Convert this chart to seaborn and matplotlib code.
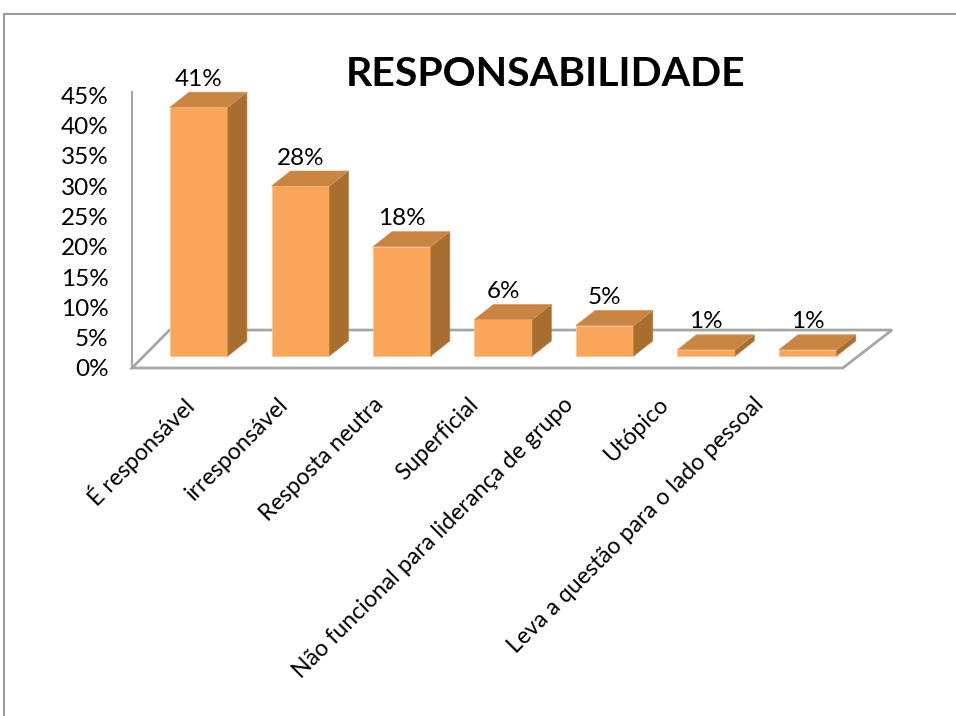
import matplotlib
matplotlib.use("Agg")
import matplotlib.pyplot as plt
import matplotlib.transforms as mtransforms
from matplotlib.patches import Polygon
from matplotlib.lines import Line2D
import seaborn as sns
import pandas as pd

# ---- data ----
categories = ["É responsável", "irresponsável", "Resposta neutra", "Superficial",
              "Não funcional para liderança de grupo", "Utópico",
              "Leva a questão para o lado pessoal"]
values = [0.41, 0.28, 0.18, 0.06, 0.05, 0.01, 0.01]
value_labels = ["41%", "28%", "18%", "6%", "5%", "1%", "1%"]
tick_values = [0.00, 0.05, 0.10, 0.15, 0.20, 0.25, 0.30, 0.35, 0.40, 0.45]
tick_labels = ["0%", "5%", "10%", "15%", "20%", "25%", "30%", "35%", "40%", "45%"]
title = "RESPONSABILIDADE"

# ---- style ----
sns.set_theme(style="white")
plt.rcParams["font.family"] = ["Lato", "DejaVu Sans"]

FRONT = "#F9A65A"
TOP = "#C98442"
SIDE = "#A86E30"
GRAY = "#A6A6A6"

W, H = 956, 716
fig = plt.figure(figsize=(W / 100, H / 100), dpi=100)
fig.patch.set_facecolor("white")

# axes placed in pixel layout
ax_l, ax_r, ax_b, ax_t = 132, 892, 368, 92
ax = fig.add_axes([ax_l / W, (H - ax_b) / H, (ax_r - ax_l) / W, (ax_b - ax_t) / H])

df = pd.DataFrame({"cat": categories, "val": values})
sns.barplot(data=df, x="cat", y="val", width=0.57, color=FRONT, saturation=1,
            edgecolor="#FBC595", linewidth=0.6, ax=ax, zorder=3)

floor_off = 0.02   # axis zero sits on the front edge of the floor
ax.set_xlim(-0.66, 6.83)
ax.set_ylim(-floor_off, 0.435)

# 3D depth in data units
xpx = (ax_r - ax_l) / (6.83 + 0.66)
ypx = (ax_b - ax_t) / (0.435 + floor_off)
dx = 19 / xpx
dy = 15 / ypx

# floor
floor = Polygon([(-0.66, -floor_off), (6.345, -floor_off), (6.83, 0.0426), (-0.29, 0.0426)],
                closed=True, facecolor="white", edgecolor=GRAY, lw=2, zorder=1,
                clip_on=False)
ax.add_patch(floor)

for p, lab in zip(ax.patches[:len(values)], value_labels):
    x0, w, h = p.get_x(), p.get_width(), p.get_height()
    top = Polygon([(x0, h), (x0 + w, h), (x0 + w + dx, h + dy), (x0 + dx, h + dy)],
                  closed=True, facecolor=TOP, edgecolor="#D8955A", lw=0.5, zorder=3,
                  clip_on=False)
    side = Polygon([(x0 + w, 0), (x0 + w + dx, dy), (x0 + w + dx, h + dy), (x0 + w, h)],
                   closed=True, facecolor=SIDE, edgecolor="#B87A3C", lw=0.5, zorder=3,
                   clip_on=False)
    ax.add_patch(side)
    ax.add_patch(top)
    ax.text(x0 + w / 2, h + 28 / ypx, lab, ha="center", va="center", fontsize=17.5,
            color="black", zorder=5, clip_on=False)

for s in ["top", "right", "bottom"]:
    ax.spines[s].set_visible(False)
ax.spines["left"].set_color(GRAY)
ax.spines["left"].set_linewidth(1.5)
ax.set_facecolor("none")

ax.set_yticks([t - floor_off for t in tick_values])
ax.set_yticklabels(tick_labels, fontsize=17.5, color="black")
ax.tick_params(axis="y", length=0, pad=17)

ax.set_xticks(range(len(categories)))
ax.set_xticklabels(categories, rotation=45, ha="right", va="center",
                   rotation_mode="anchor", fontsize=16.7, color="black")
ax.tick_params(axis="x", length=0, pad=24)
for i, t in enumerate(ax.get_xticklabels()):
    off = mtransforms.ScaledTranslation(-(9 + 6.5 * i) / 100, 0, fig.dpi_scale_trans)
    t.set_transform(t.get_transform() + off)
ax.set_xlabel("")
ax.set_ylabel("")

fig.text(546 / W, (H - 74) / H, title, ha="center", va="center",
         fontsize=29.5, fontweight="bold", color="black")

# chart frame (top and left edges visible)
fig.add_artist(Line2D([4 / W, 1], [(H - 14) / H, (H - 14) / H], color="#9A9A9A", lw=1.5,
                      transform=fig.transFigure))
fig.add_artist(Line2D([4 / W, 4 / W], [0, (H - 14) / H], color="#9A9A9A", lw=1.5,
                      transform=fig.transFigure))

fig.savefig("out.png", dpi=100)
